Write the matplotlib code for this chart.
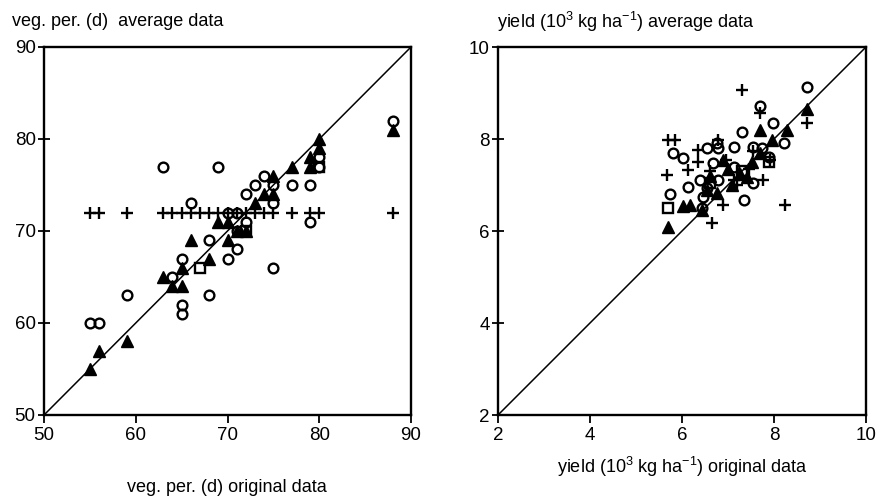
import matplotlib
matplotlib.use("Agg")
import matplotlib.pyplot as plt

plt.rcParams['font.family'] = ['Liberation Sans', 'DejaVu Sans']
plt.rcParams['mathtext.fontset'] = 'custom'
plt.rcParams['mathtext.rm'] = 'Liberation Sans'
plt.rcParams['mathtext.it'] = 'Liberation Sans:italic'
plt.rcParams['mathtext.bf'] = 'Liberation Sans:bold'

# vegetation period (days): original vs. averaged data
veg_plus_x = [55, 56, 59, 63, 64, 65, 66, 67, 68, 69, 70, 71, 72, 73, 74, 75, 77, 79, 80, 88]
veg_plus_y = [72, 72, 72, 72, 72, 72, 72, 72, 72, 72, 72, 72, 72, 72, 72, 72, 72, 72, 72, 72]

veg_circ_x = [55, 56, 59, 63, 66, 69, 64, 65, 65, 65, 68, 68, 70, 71, 70, 71, 72, 71,
              72, 73, 74, 75, 75, 75, 77, 79, 80, 80, 79, 88]
veg_circ_y = [60, 60, 63, 77, 73, 77, 65, 67, 62, 61, 63, 69, 67, 68, 72, 72, 71, 70,
              74, 75, 76, 73, 75, 66, 75, 75, 78, 77, 71, 82]

veg_tri_x = [55, 56, 59, 63, 64, 65, 65, 66, 68, 70, 69, 70, 71, 72, 73, 74, 75, 75,
             77, 79, 79, 80, 80, 88]
veg_tri_y = [55, 57, 58, 65, 64, 64, 66, 69, 67, 69, 71, 71, 70, 70, 73, 74, 74, 76,
             77, 78, 77, 79, 80, 81]

veg_sq_x = [67, 72, 80]
veg_sq_y = [66, 70, 77]

# yield (10^3 kg/ha): original vs. averaged data
yld_plus_x = [7.30, 8.71, 5.70, 5.85, 6.35, 6.14, 5.67, 6.79, 6.35, 7.77, 6.90, 8.24,
              6.65, 7.12, 7.91, 7.70, 6.95, 7.45, 7.20, 6.60, 7.55]
yld_plus_y = [9.07, 8.34, 7.98, 7.98, 7.76, 7.33, 7.22, 7.98, 7.51, 7.11, 6.57, 6.57,
              6.17, 7.11, 7.54, 8.57, 7.55, 7.35, 7.00, 7.30, 7.75]

yld_circ_x = [8.71, 7.70, 7.98, 8.22, 5.81, 6.03, 5.74, 6.14, 7.35, 7.55, 6.54, 6.75,
              7.12, 7.30, 7.55, 7.73, 6.46, 6.54, 6.68, 6.79, 6.39, 7.12, 6.43, 7.90,
              6.79]
yld_circ_y = [9.14, 8.72, 8.34, 7.92, 7.70, 7.58, 6.80, 6.96, 6.67, 7.05, 7.80, 7.91,
              7.83, 8.16, 7.83, 7.80, 6.75, 6.93, 7.47, 7.11, 7.11, 7.40, 6.49, 7.60,
              7.80]

yld_tri_x = [8.71, 8.28, 7.70, 7.95, 5.70, 6.03, 6.17, 6.43, 6.54, 6.90, 7.26, 7.52,
             7.08, 7.41, 6.75, 7.70, 6.60, 7.00]
yld_tri_y = [8.65, 8.20, 8.20, 7.98, 6.09, 6.54, 6.57, 6.46, 6.89, 7.54, 7.25, 7.51,
             7.00, 7.18, 6.82, 7.69, 7.20, 7.35]

yld_sq_x = [5.70, 7.90, 6.60, 7.30]
yld_sq_y = [6.49, 7.50, 7.05, 7.30]


def draw_panel(ax, lim, ticks, plus, circ, tri, sq):
    ax.plot(lim, lim, color='black', lw=1.1, zorder=1)
    ax.plot(plus[0], plus[1], ls='none', marker='+', ms=8.5, mew=1.7, color='black', zorder=3)
    ax.plot(circ[0], circ[1], ls='none', marker='o', ms=7, mew=1.7, mfc='none',
            mec='black', zorder=3)
    ax.plot(sq[0], sq[1], ls='none', marker='s', ms=6.5, mew=1.7, mfc='none',
            mec='black', zorder=3)
    ax.plot(tri[0], tri[1], ls='none', marker='^', ms=8, color='black', zorder=4)
    ax.set_xlim(lim)
    ax.set_ylim(lim)
    ax.set_xticks(ticks)
    ax.set_yticks(ticks)
    ax.tick_params(axis='x', direction='out', length=6, width=1.3, labelsize=13.5, pad=3)
    ax.tick_params(axis='y', direction='inout', length=8, width=1.3, labelsize=13.5, pad=2)
    for s in ax.spines.values():
        s.set_linewidth(1.7)


fig = plt.figure(figsize=(8.77, 5.03), dpi=100)
ax1 = fig.add_axes([44 / 877, 1 - 415 / 503, 367 / 877, 368 / 503])
ax2 = fig.add_axes([498 / 877, 1 - 415 / 503, 368 / 877, 368 / 503])

draw_panel(ax1, [50, 90], [50, 60, 70, 80, 90],
           (veg_plus_x, veg_plus_y), (veg_circ_x, veg_circ_y),
           (veg_tri_x, veg_tri_y), (veg_sq_x, veg_sq_y))
draw_panel(ax2, [2, 10], [2, 4, 6, 8, 10],
           (yld_plus_x, yld_plus_y), (yld_circ_x, yld_circ_y),
           (yld_tri_x, yld_tri_y), (yld_sq_x, yld_sq_y))

fig.text(12 / 877, 1 - 22 / 503, 'veg. per. (d)  average data', fontsize=13, va='center', ha='left')
fig.text(497 / 877, 1 - 22 / 503, r'yield (10$^3$ kg ha$^{-1}$) average data',
         fontsize=13, va='center', ha='left')
fig.text(227 / 877, 1 - 487 / 503, 'veg. per. (d) original data', fontsize=13, va='center', ha='center')
fig.text(682 / 877, 1 - 467 / 503, r'yield (10$^3$ kg ha$^{-1}$) original data',
         fontsize=13, va='center', ha='center')

fig.savefig('out.png', dpi=100)
